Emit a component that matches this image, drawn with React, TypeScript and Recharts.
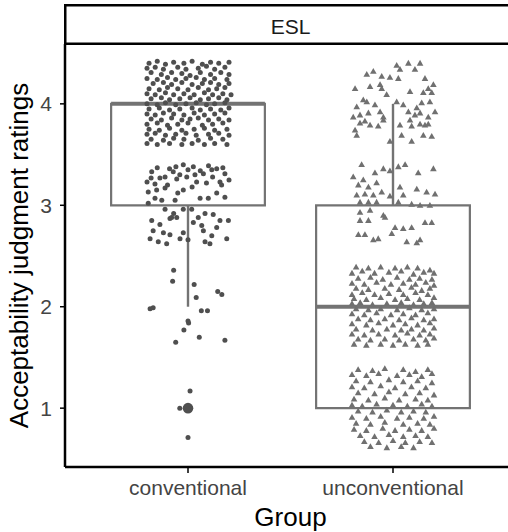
import { ComposedChart, Scatter, XAxis, YAxis, ReferenceArea, ReferenceLine } from 'recharts';

const groups = ['conventional', 'unconventional'];
const panelLabel = 'ESL';
const yTicks = [1, 2, 3, 4];

// boxplot stats per group
const q1 = [3, 1];
const median = [4, 2];
const q3 = [4, 3];
const whiskerLow = [2, 1];
const whiskerHigh = [4, 4];
const outliers = [[1], []];

// jittered ratings, [x jitter, y]
const convAround4: [number, number][] = [
  [-0.19, 4.40], [-0.15, 4.42], [-0.11, 4.39], [-0.07, 4.41], [-0.02, 4.40], [0.02, 4.42], [0.07, 4.39], [0.11, 4.41], [0.15, 4.40], [0.2, 4.41],
  [-0.2, 4.35], [-0.16, 4.36], [-0.12, 4.34], [-0.05, 4.36], [-0.01, 4.34], [0.05, 4.35], [0.09, 4.37], [0.13, 4.34], [0.18, 4.36],
  [-0.18, 4.31], [-0.13, 4.29], [-0.08, 4.31], [-0.03, 4.30], [0.01, 4.28], [0.06, 4.31], [0.11, 4.29], [0.16, 4.31], [0.2, 4.29],
  [-0.2, 4.25], [-0.15, 4.24], [-0.1, 4.26], [-0.06, 4.24], [-0.01, 4.25], [0.04, 4.26], [0.08, 4.24], [0.13, 4.25], [0.19, 4.24],
  [-0.17, 4.20], [-0.12, 4.21], [-0.08, 4.19], [-0.03, 4.21], [0.02, 4.19], [0.07, 4.20], [0.11, 4.21], [0.15, 4.19], [0.2, 4.20],
  [-0.19, 4.15], [-0.14, 4.14], [-0.1, 4.16], [-0.05, 4.15], [0.0, 4.14], [0.05, 4.16], [0.1, 4.14], [0.14, 4.15], [0.18, 4.16],
  [-0.2, 4.10], [-0.16, 4.09], [-0.11, 4.11], [-0.07, 4.09], [-0.02, 4.10], [0.03, 4.09], [0.08, 4.11], [0.12, 4.09], [0.17, 4.10], [0.21, 4.09],
  [-0.18, 4.05], [-0.13, 4.06], [-0.09, 4.04], [-0.04, 4.05], [0.01, 4.06], [0.06, 4.04], [0.1, 4.05], [0.15, 4.06], [0.19, 4.04],
  [-0.2, 4.00], [-0.15, 3.99], [-0.11, 4.01], [-0.06, 3.99], [-0.01, 4.00], [0.04, 4.01], [0.09, 3.99], [0.13, 4.00], [0.18, 4.01],
  [-0.19, 3.95], [-0.14, 3.96], [-0.09, 3.94], [-0.04, 3.95], [0.02, 3.96], [0.06, 3.94], [0.11, 3.95], [0.16, 3.94], [0.2, 3.96],
  [-0.2, 3.90], [-0.16, 3.89], [-0.12, 3.91], [-0.07, 3.90], [-0.02, 3.89], [0.03, 3.91], [0.08, 3.89], [0.13, 3.90], [0.18, 3.91],
  [-0.18, 3.85], [-0.13, 3.84], [-0.08, 3.86], [-0.03, 3.84], [0.01, 3.85], [0.05, 3.86], [0.1, 3.84], [0.15, 3.85], [0.2, 3.84],
  [-0.2, 3.80], [-0.15, 3.81], [-0.1, 3.79], [-0.05, 3.80], [0.0, 3.81], [0.07, 3.79], [0.12, 3.80], [0.17, 3.81],
  [-0.19, 3.75], [-0.14, 3.74], [-0.09, 3.76], [-0.03, 3.74], [0.03, 3.75], [0.08, 3.76], [0.13, 3.74], [0.19, 3.75],
  [-0.2, 3.70], [-0.16, 3.71], [-0.11, 3.69], [-0.06, 3.70], [-0.01, 3.71], [0.04, 3.69], [0.1, 3.70], [0.15, 3.71], [0.2, 3.69],
  [-0.18, 3.65], [-0.12, 3.64], [-0.07, 3.66], [-0.02, 3.65], [0.05, 3.64], [0.11, 3.66], [0.17, 3.65],
  [-0.2, 3.61], [-0.15, 3.60], [-0.09, 3.61], [-0.03, 3.60], [0.02, 3.61], [0.08, 3.60], [0.13, 3.61], [0.19, 3.60],
];

const convAround3: [number, number][] = [
  [-0.177, 3.33], [-0.137, 3.27], [-0.112, 3.28], [-0.072, 3.33], [-0.059, 3.38], [-0.023, 3.40], [0.026, 3.38], [0.034, 3.30],
  [0.075, 3.31], [0.116, 3.35], [0.14, 3.36], [0.18, 3.31], [0.164, 3.20], [0.156, 3.23], [-0.2, 3.23], [-0.161, 3.21],
  [-0.194, 3.13], [-0.153, 3.15], [-0.112, 3.17], [-0.023, 3.15], [0.042, 3.23], [-0.055, 3.26], [-0.006, 3.28],
  [-0.161, 3.07], [-0.128, 3.05], [-0.063, 3.05], [0.059, 3.07], [0.099, 3.07], [-0.194, 3.02], [-0.112, 2.96],
  [-0.023, 2.96], [0.018, 2.96], [0.083, 2.92], [0.123, 2.91], [-0.088, 2.87], [-0.055, 2.88], [-0.177, 2.85],
  [-0.137, 2.81], [0.026, 2.83], [0.067, 2.80], [0.156, 2.85], [0.197, 2.85], [-0.12, 2.73], [-0.088, 2.71],
  [-0.023, 2.73], [0.075, 2.75], [0.116, 2.70], [-0.185, 2.67], [-0.145, 2.64], [-0.104, 2.62], [0.0, 2.66],
  [0.083, 2.64], [0.107, 2.62], [0.189, 2.67], [-0.039, 2.67], [-0.08, 2.88],
  [-0.15, 3.37], [0.0, 3.35], [0.1, 3.39], [-0.09, 3.36], [0.06, 3.34], [0.17, 3.37], [-0.04, 3.30], [0.12, 3.28],
  [-0.18, 3.27], [0.2, 3.25], [0.09, 3.22], [-0.1, 3.20], [0.02, 3.18], [-0.05, 3.12], [0.14, 3.12], [0.18, 3.08],
  [-0.17, 2.75], [0.14, 2.78], [-0.07, 2.92], [0.05, 2.88],
];

const convAround2: [number, number][] = [
  [-0.07, 2.36], [-0.075, 2.25], [0.03, 2.22], [0.04, 2.09], [0.145, 2.15], [0.165, 2.12], [-0.185, 1.98], [-0.17, 1.99],
  [0.065, 1.96], [0.095, 1.96], [0.0, 1.86], [0.003, 1.84], [-0.02, 1.77], [-0.06, 1.65], [0.055, 1.70], [0.18, 1.67],
  [0.01, 1.17], [-0.04, 1.0], [0.0, 0.71],
];

const unconvAround4: [number, number][] = [
  [0.018, 4.38], [0.075, 4.40], [0.132, 4.40], [0.034, 4.34], [0.107, 4.34], [-0.096, 4.32], [-0.128, 4.29], [-0.055, 4.27],
  [-0.015, 4.26], [0.026, 4.25], [0.156, 4.25], [-0.185, 4.15], [-0.112, 4.17], [-0.063, 4.19], [-0.055, 4.15], [0.172, 4.15],
  [0.197, 4.19], [0.083, 4.12], [-0.031, 4.09], [0.148, 4.11], [0.189, 4.11], [-0.145, 4.04], [-0.128, 4.02], [-0.088, 3.99],
  [-0.177, 3.97], [0.018, 4.02], [0.05, 3.99], [0.14, 4.01], [0.18, 4.02], [-0.194, 3.87], [-0.161, 3.89], [-0.12, 3.91],
  [-0.063, 3.92], [-0.047, 3.87], [0.075, 3.92], [0.107, 3.89], [0.132, 3.91], [0.172, 3.87], [0.205, 3.92], [-0.161, 3.81],
  [-0.137, 3.83], [-0.112, 3.79], [-0.072, 3.78], [0.034, 3.79], [0.091, 3.78], [0.132, 3.80], [0.156, 3.79], [0.172, 3.80],
  [-0.185, 3.74], [-0.177, 3.69], [0.042, 3.69], [0.148, 3.69], [0.189, 3.68], [-0.015, 3.63], [0.091, 3.63], [0.083, 3.84],
  [-0.047, 3.84], [0.116, 3.96],
];

const unconvAround3: [number, number][] = [
  [-0.153, 3.40], [-0.047, 3.36], [0.059, 3.40], [0.026, 3.38], [0.197, 3.36], [-0.194, 3.28], [-0.145, 3.25], [-0.088, 3.32],
  [-0.015, 3.34], [0.123, 3.32], [-0.169, 3.20], [-0.12, 3.18], [-0.08, 3.22], [0.034, 3.18], [0.116, 3.16], [0.164, 3.13],
  [0.205, 3.11], [-0.177, 3.10], [-0.137, 3.11], [-0.096, 3.10], [-0.055, 3.13], [-0.015, 3.09], [0.05, 3.10], [-0.161, 3.03],
  [-0.12, 3.03], [-0.08, 3.03], [0.026, 3.03], [0.091, 3.01], [0.132, 3.00], [0.18, 3.00], [-0.161, 2.93], [-0.112, 2.95],
  [-0.047, 2.90], [-0.161, 2.85], [-0.12, 2.85], [-0.039, 2.88], [0.01, 2.78], [0.05, 2.77], [0.091, 2.78], [0.156, 2.83],
  [0.189, 2.83], [-0.169, 2.71], [-0.137, 2.71], [-0.096, 2.66], [-0.072, 2.67], [-0.006, 2.72], [0.067, 2.64], [0.132, 2.66],
  [0.116, 2.63],
];

const unconvAround2: [number, number][] = [
  [-0.18, 2.39], [-0.12, 2.38], [-0.06, 2.39], [0.01, 2.38], [0.07, 2.39], [0.12, 2.38], [0.18, 2.36],
  [-0.2, 2.33], [-0.15, 2.35], [-0.09, 2.33], [-0.02, 2.34], [0.04, 2.35], [0.1, 2.32], [0.15, 2.34], [0.2, 2.33],
  [-0.17, 2.28], [-0.11, 2.29], [-0.05, 2.27], [0.02, 2.29], [0.08, 2.27], [0.13, 2.28], [0.19, 2.27],
  [-0.2, 2.23], [-0.14, 2.22], [-0.08, 2.24], [-0.01, 2.22], [0.05, 2.23], [0.11, 2.22], [0.16, 2.24], [0.2, 2.21],
  [-0.18, 2.18], [-0.12, 2.17], [-0.04, 2.18], [0.03, 2.17], [0.09, 2.19], [0.14, 2.16], [0.18, 2.18],
  [-0.2, 2.12], [-0.15, 2.14], [-0.09, 2.12], [-0.02, 2.13], [0.05, 2.12], [0.11, 2.14], [0.17, 2.12],
  [-0.19, 2.08], [-0.13, 2.07], [-0.06, 2.09], [0.01, 2.07], [0.07, 2.08], [0.13, 2.07], [0.2, 2.09],
  [-0.2, 2.03], [-0.16, 2.04], [-0.1, 2.02], [-0.03, 2.03], [0.04, 2.04], [0.1, 2.02], [0.15, 2.03], [0.19, 2.04],
  [-0.18, 1.98], [-0.12, 1.97], [-0.06, 1.98], [0.02, 1.97], [0.08, 1.99], [0.14, 1.97], [0.2, 1.98],
  [-0.2, 1.93], [-0.14, 1.92], [-0.08, 1.94], [-0.01, 1.92], [0.05, 1.93], [0.11, 1.92], [0.17, 1.94],
  [-0.17, 1.88], [-0.11, 1.87], [-0.04, 1.88], [0.03, 1.87], [0.09, 1.89], [0.15, 1.87], [0.2, 1.88],
  [-0.2, 1.83], [-0.13, 1.82], [-0.07, 1.84], [0.0, 1.82], [0.06, 1.83], [0.12, 1.82], [0.18, 1.84],
  [-0.18, 1.78], [-0.1, 1.77], [-0.03, 1.78], [0.04, 1.77], [0.09, 1.78], [0.15, 1.77], [0.2, 1.79],
  [-0.2, 1.73], [-0.14, 1.72], [-0.07, 1.73], [0.01, 1.72], [0.07, 1.74], [0.13, 1.72], [0.18, 1.73],
  [-0.17, 1.68], [-0.11, 1.67], [-0.04, 1.68], [0.03, 1.67], [0.1, 1.68], [0.16, 1.67], [0.2, 1.69],
  [-0.19, 1.63], [-0.13, 1.62], [-0.06, 1.63], [0.0, 1.62], [0.06, 1.63], [0.12, 1.62], [0.17, 1.63],
];

const unconvAround1: [number, number][] = [
  [-0.17, 1.38], [-0.1, 1.37], [-0.04, 1.39], [0.05, 1.38], [0.11, 1.36], [0.17, 1.38],
  [-0.2, 1.33], [-0.13, 1.32], [-0.07, 1.34], [0.02, 1.32], [0.08, 1.33], [0.14, 1.31], [0.19, 1.34],
  [-0.18, 1.27], [-0.11, 1.26], [-0.02, 1.28], [0.05, 1.26], [0.12, 1.27], [0.19, 1.25],
  [-0.2, 1.21], [-0.14, 1.20], [-0.06, 1.22], [0.01, 1.20], [0.09, 1.21], [0.16, 1.20],
  [-0.17, 1.15], [-0.09, 1.14], [-0.02, 1.16], [0.06, 1.14], [0.13, 1.15], [0.2, 1.13],
  [-0.19, 1.09], [-0.12, 1.08], [-0.04, 1.10], [0.03, 1.08], [0.11, 1.09], [0.17, 1.08],
  [-0.2, 1.03], [-0.15, 1.02], [-0.08, 1.04], [0.0, 1.03], [0.07, 1.02], [0.14, 1.04], [0.19, 1.02],
  [-0.17, 0.97], [-0.1, 0.96], [-0.03, 0.98], [0.04, 0.96], [0.1, 0.97], [0.16, 0.96],
  [-0.2, 0.91], [-0.13, 0.90], [-0.06, 0.92], [0.02, 0.90], [0.08, 0.91], [0.15, 0.90], [0.2, 0.92],
  [-0.18, 0.85], [-0.11, 0.84], [-0.04, 0.86], [0.05, 0.84], [0.12, 0.85], [0.18, 0.84],
  [-0.19, 0.79], [-0.13, 0.78], [-0.05, 0.80], [0.01, 0.78], [0.08, 0.79], [0.14, 0.78], [0.2, 0.80],
  [-0.16, 0.73], [-0.09, 0.72], [-0.02, 0.74], [0.05, 0.72], [0.11, 0.73], [0.17, 0.72],
  [-0.14, 0.67], [-0.07, 0.66], [0.0, 0.68], [0.06, 0.66], [0.13, 0.67], [0.19, 0.66],
  [-0.11, 0.62], [-0.03, 0.61], [0.04, 0.62], [0.1, 0.61],
];

const FONT = '"Liberation Sans", Arial, Helvetica, sans-serif';
const BOX_COLOR = '#737373';
const HALF = 0.375;

const toPoints = (pts: [number, number][], center: number) =>
  pts.map(([j, v]) => ({ x: center + j, y: v }));

const convData = toPoints([...convAround4, ...convAround3, ...convAround2], 1);
const unconvData = toPoints([...unconvAround4, ...unconvAround3, ...unconvAround2, ...unconvAround1], 2);
const outlierData = outliers.flatMap((vals, i) => vals.map((v) => ({ x: i + 1, y: v })));

const Dot = (props: any) => <circle cx={props.cx} cy={props.cy} r={2.5} fill="#4f4f4f" />;
const BigDot = (props: any) => <circle cx={props.cx} cy={props.cy} r={5.3} fill="#4f4f4f" />;
const Tri = (props: any) => {
  const { cx, cy } = props;
  return <path d={`M${cx},${cy - 3.4} L${cx + 3.3},${cy + 2.4} L${cx - 3.3},${cy + 2.4} Z`} fill="#707070" />;
};

const YTitle = (props: any) => {
  const vb = props.viewBox || { y: 44, height: 423 };
  const cy = vb.y + vb.height / 2;
  return (
    <text x={28} y={cy} transform={`rotate(-90 28 ${cy})`} textAnchor="middle" fontSize={26} fill="#000" fontFamily={FONT}>
      Acceptability judgment ratings
    </text>
  );
};

export default function App() {
  return (
    <div style={{ position: 'absolute', left: 0, top: 0, width: 508, height: 532, overflow: 'hidden', background: '#fff' }}>
      <svg width={508} height={50} style={{ position: 'absolute', left: 0, top: 0 }}>
        <rect x={65.25} y={5.25} width={460} height={38.5} fill="#fff" stroke="#000" strokeWidth={2.5} />
        <text x={290.5} y={33.5} textAnchor="middle" fontSize={21} fill="#1a1a1a" fontFamily={FONT}>
          {panelLabel}
        </text>
      </svg>
      <div style={{ position: 'absolute', left: 0, top: 0 }}>
        <ComposedChart width={530} height={532} margin={{ top: 44, right: 14, bottom: 0, left: 0 }}>
          <XAxis
            type="number"
            dataKey="x"
            domain={[0.4, 2.6]}
            ticks={[1, 2]}
            allowDataOverflow
            height={65}
            tickFormatter={(v: number) => groups[Math.round(v) - 1]}
            tick={{ fontSize: 21, fill: '#444', fontFamily: FONT }}
            axisLine={{ stroke: '#000', strokeWidth: 2.5 }}
            tickLine={{ stroke: '#000', strokeWidth: 1.5 }}
            tickSize={6}
            tickMargin={7}
            label={{ value: 'Group', position: 'insideBottom', offset: 6, style: { fontSize: 26, fill: '#000', fontFamily: FONT } }}
          />
          <YAxis
            type="number"
            dataKey="y"
            domain={[0.42, 4.59]}
            ticks={yTicks}
            allowDataOverflow
            width={65}
            tick={{ fontSize: 21, fill: '#444', fontFamily: FONT }}
            axisLine={{ stroke: '#000', strokeWidth: 2.5 }}
            tickLine={{ stroke: '#000', strokeWidth: 1.5 }}
            tickSize={5}
            tickMargin={8}
            label={<YTitle />}
          />
          <Scatter data={convData} shape={Dot} isAnimationActive={false} />
          <Scatter data={unconvData} shape={Tri} isAnimationActive={false} />
          {groups.map((g, i) => (
            <ReferenceArea
              key={`box-${g}`}
              x1={i + 1 - HALF}
              x2={i + 1 + HALF}
              y1={q1[i]}
              y2={q3[i]}
              fill="none"
              fillOpacity={0}
              stroke={BOX_COLOR}
              strokeWidth={2.2}
            />
          ))}
          {groups.map((g, i) =>
            whiskerLow[i] < q1[i] ? (
              <ReferenceLine key={`wl-${g}`} segment={[{ x: i + 1, y: whiskerLow[i] }, { x: i + 1, y: q1[i] }]} stroke={BOX_COLOR} strokeWidth={2.4} />
            ) : null
          )}
          {groups.map((g, i) =>
            whiskerHigh[i] > q3[i] ? (
              <ReferenceLine key={`wh-${g}`} segment={[{ x: i + 1, y: q3[i] }, { x: i + 1, y: whiskerHigh[i] }]} stroke={BOX_COLOR} strokeWidth={2.4} />
            ) : null
          )}
          {groups.map((g, i) => (
            <ReferenceLine
              key={`med-${g}`}
              segment={[{ x: i + 1 - HALF, y: median[i] }, { x: i + 1 + HALF, y: median[i] }]}
              stroke={BOX_COLOR}
              strokeWidth={4}
            />
          ))}
          <Scatter data={outlierData} shape={BigDot} isAnimationActive={false} />
        </ComposedChart>
      </div>
    </div>
  );
}
